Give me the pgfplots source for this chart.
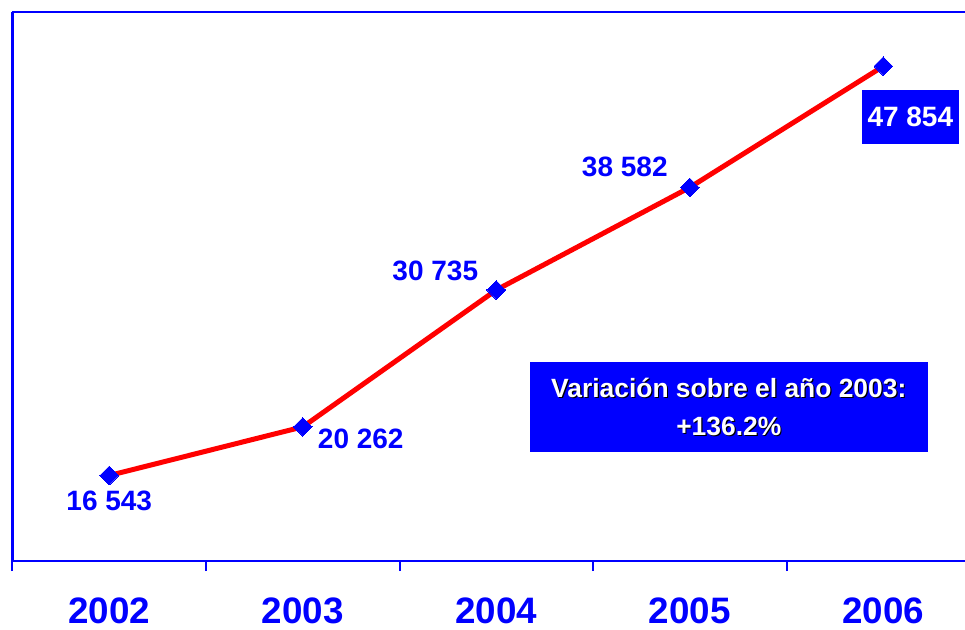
\documentclass[border=0pt]{standalone}
\usepackage{fontspec}
\setmainfont{Liberation Sans}
\usepackage{pgfplots}
\usepackage{pgfplotstable}
\pgfplotsset{compat=1.18}
\definecolor{xblue}{RGB}{0,0,255}
\definecolor{xred}{RGB}{255,0,0}
\pgfplotstableread[col sep=comma]{
x,y,dx,dy,lab
0,16543,0,-12.5,16 543
1,20262,29,-6,20 262
2,30735,-30.5,9.5,30 735
3,38582,-32.5,10.5,38 582
4,47854,0,0,
}\datatable
\pgfplotstableread[col sep=comma]{
x,y,lab
4,47854,47 854
}\lasttable
\begin{document}
\begin{tikzpicture}
\begin{axis}[
  scale only axis,
  width=476.25pt, height=274.5pt,
  xmin=-0.5, xmax=4.422, ymin=10000, ymax=52000,
  axis x line*=bottom, axis y line*=left,
  axis line style={xblue, line width=1.3pt},
  ytick=\empty,
  xtick={-0.5,0.5,1.5,2.5,3.5}, xticklabels={},
  xtick align=outside,
  major tick length=5pt,
  tick style={xblue, line width=1pt},
  extra x ticks={0,1,2,3,4},
  extra x tick labels={2002,2003,2004,2005,2006},
  extra x tick style={major tick length=0pt},
  xticklabel style={font=\bfseries\fontsize{18.4}{20}\selectfont, text=xblue, inner sep=0pt, anchor=north, yshift=-18.3pt},
  clip=false,
]
\draw[xblue, line width=1.3pt] (rel axis cs:0,1) -- (rel axis cs:1,1);
\addplot[xred, line width=2.5pt, mark=square*, mark size=3.3pt,
  mark options={draw=xblue, fill=xblue, rotate=45, line width=0pt},
  nodes near coords, point meta=explicit symbolic,
  visualization depends on={\thisrow{dx}\as\dx},
  visualization depends on={\thisrow{dy}\as\dy},
  every node near coord/.append style={anchor=center, xshift=\dx pt, yshift=\dy pt,
    font=\bfseries\fontsize{14}{16}\selectfont, text=xblue, inner sep=0pt}]
  table[x=x, y=y, meta=lab]{\datatable};
\addplot[draw=none, mark=none, nodes near coords, point meta=explicit symbolic,
  every node near coord/.append style={anchor=center, xshift=13.5pt, yshift=-25.5pt,
    fill=xblue, text=white, minimum width=48.5pt, minimum height=27pt, inner sep=0pt,
    font=\bfseries\fontsize{14}{16}\selectfont}]
  table[x=x, y=y, meta=lab]{\lasttable};
\node[fill=xblue, minimum width=199pt, minimum height=45pt, inner sep=0pt] at (rel axis cs:0.752,0.2805) {};
\node[xshift=0.6pt, yshift=-0.6pt, text=black, align=center, inner sep=0pt,
  font=\bfseries\fontsize{13.2}{19}\selectfont] at (rel axis cs:0.752,0.2805) {Variación sobre el año 2003:\\+136.2\%};
\node[text=white, align=center, inner sep=0pt,
  font=\bfseries\fontsize{13.2}{19}\selectfont] at (rel axis cs:0.752,0.2805) {Variación sobre el año 2003:\\+136.2\%};
\end{axis}
\pgfresetboundingbox
\useasboundingbox (-6.25pt,-34pt) rectangle (476.25pt,280.5pt);
\end{tikzpicture}
\end{document}
